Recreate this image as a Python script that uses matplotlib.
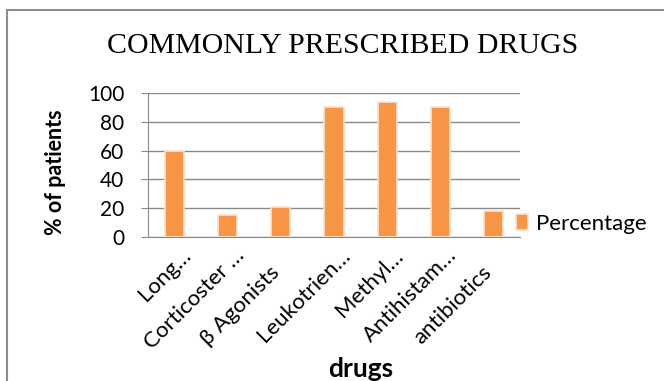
import matplotlib.pyplot as plt
from matplotlib.patches import Rectangle
from matplotlib.transforms import ScaledTranslation

drugs = ["Long\u2026", "Corticoster \u2026", "\u03b2 Agonists", "Leukotrien\u2026",
         "Methyl\u2026", "Antihistam\u2026", "antibiotics"]
percentage = [60, 15, 21, 90, 94, 90, 18]
yticks = [0, 20, 40, 60, 80, 100]

plt.rcParams['font.family'] = ['Lato', 'DejaVu Sans']

fig = plt.figure(figsize=(6.64, 3.81), dpi=100)
ax = fig.add_axes([148 / 664, 1 - 237 / 381, 372 / 664, 144 / 381])

# outer frame of the chart area
fig.patches.append(Rectangle((7 / 664, -0.05), 1.1, 1 - 10 / 381 + 0.05,
                             transform=fig.transFigure, fill=False,
                             edgecolor='#8c8c8c', linewidth=1.5))

x = range(len(drugs))
ax.bar(x, percentage, width=0.36, color='#F79646', edgecolor='#fbe3d2',
       linewidth=1.2, label='Percentage', zorder=3)

ax.set_xlim(-0.5, len(drugs) - 0.5)
ax.set_ylim(0, 100)
ax.set_yticks(yticks)
ax.yaxis.grid(True, color='#8a8a8a', linewidth=1)
ax.set_axisbelow(True)
for s in ['top', 'right']:
    ax.spines[s].set_visible(False)
ax.spines['left'].set_color('#8a8a8a')
ax.spines['bottom'].set_color('#8a8a8a')
ax.tick_params(axis='y', length=5, color='#8a8a8a', labelsize=15, pad=12)
ax.tick_params(axis='x', length=0, labelsize=16, pad=6)
ax.set_xticks(list(x))
ax.set_xticklabels(drugs, rotation=45, ha='right', rotation_mode='anchor')

# truncated names sit further up the slant than the full ones
for lbl in ax.get_xticklabels():
    if lbl.get_text().endswith('\u2026'):
        dx, dy = 0.06, 0.0
    else:
        dx, dy = -0.12, -0.17
    lbl.set_transform(lbl.get_transform() +
                      ScaledTranslation(dx, dy, fig.dpi_scale_trans))

ax.set_ylabel('% of patients', fontsize=15.5, fontweight='bold')
ax.yaxis.set_label_coords(-0.22, 0.45)
ax.set_xlabel('drugs', fontsize=19, fontweight='bold')
ax.xaxis.set_label_coords(0.573, -0.83)

fig.text(343 / 664, 1 - 46 / 381, 'COMMONLY PRESCRIBED DRUGS', ha='center',
         va='center', fontsize=21.5, family='Liberation Serif')

ax.legend(loc='center left', bbox_to_anchor=(0.966, 0.09), frameon=False,
          fontsize=16, handlelength=0.55, handleheight=0.75, handletextpad=0.35,
          borderaxespad=0)

fig.savefig('out.png', dpi=100)
